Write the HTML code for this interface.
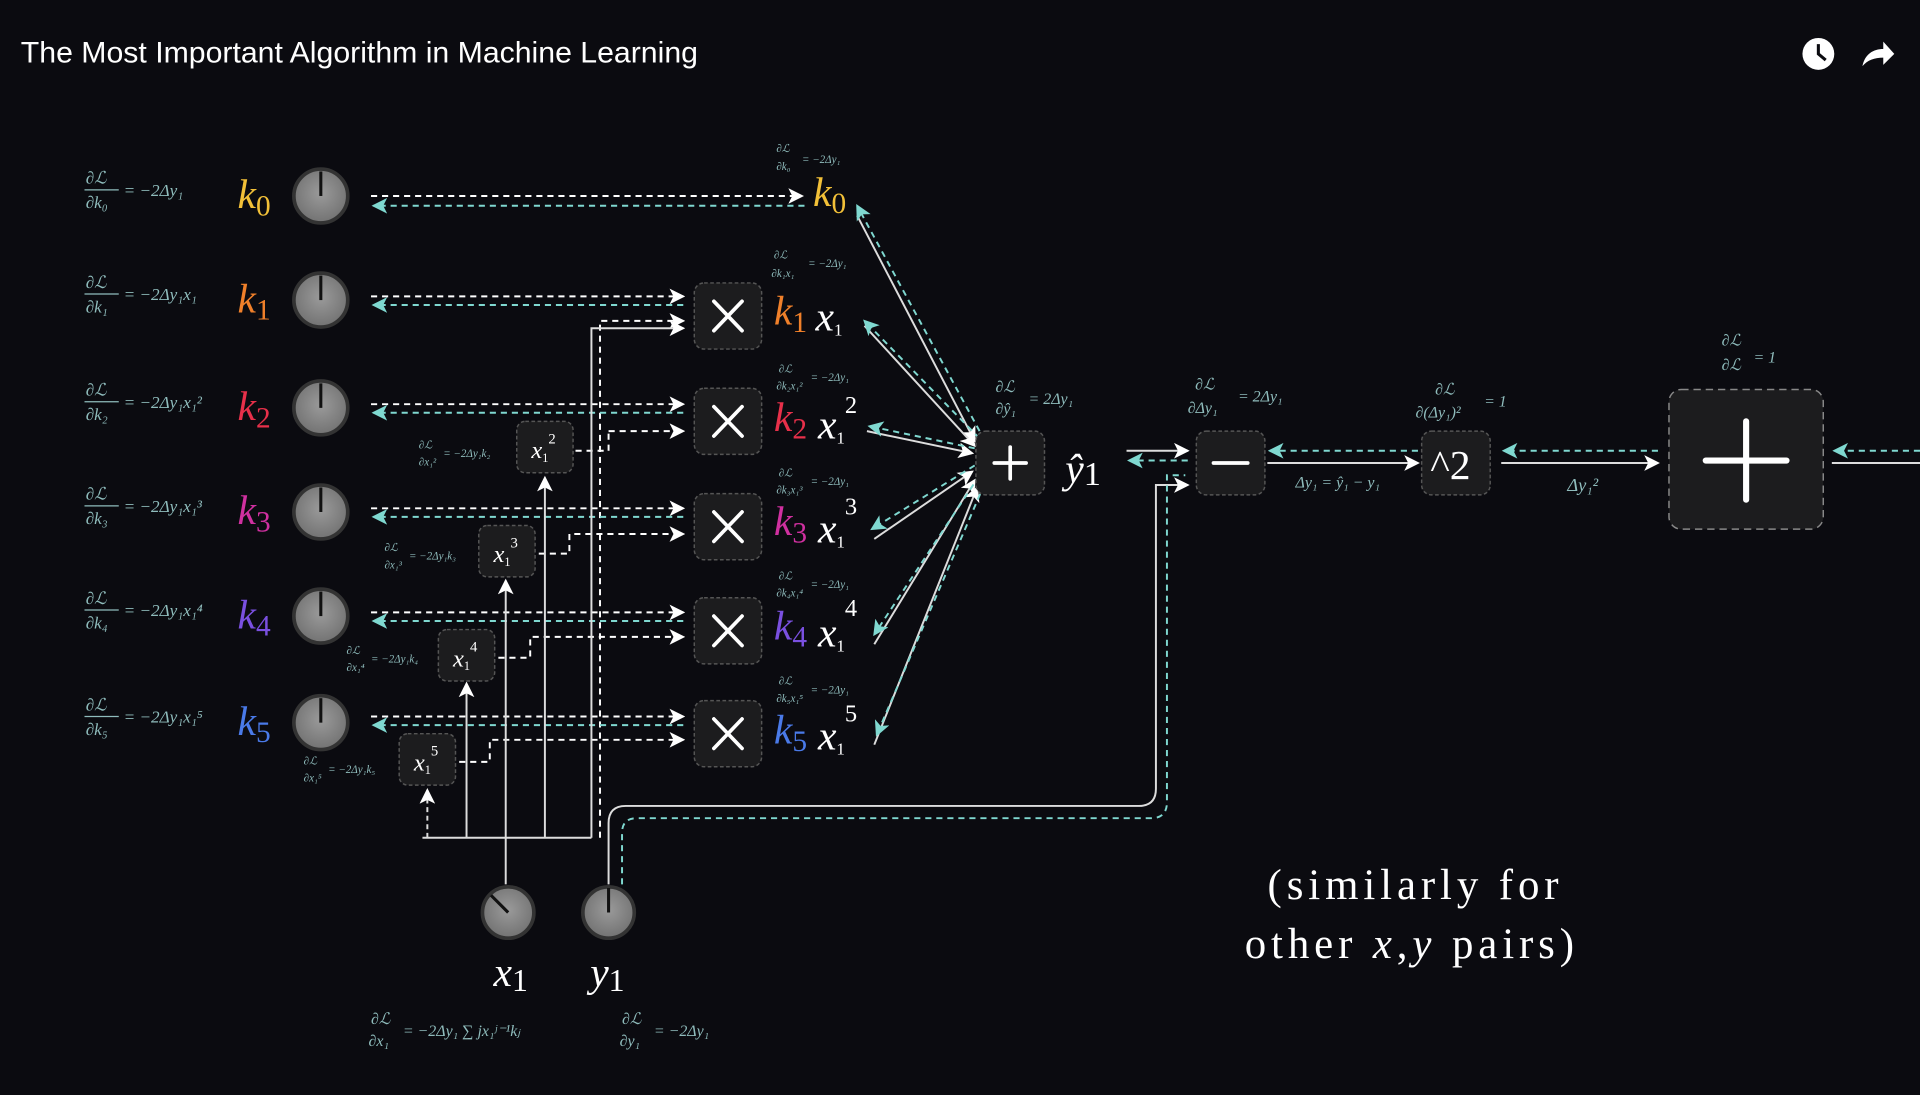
<!DOCTYPE html>
<html><head><meta charset="utf-8"><style>
html,body{margin:0;padding:0;background:#0b0b10;}
svg{display:block}
.g{fill:#8fbcbc;font-family:"Liberation Serif",serif;font-style:italic}
.w{fill:#fff;font-family:"Liberation Serif",serif;font-style:italic}
</style></head><body>
<svg width="1920" height="1095" viewBox="0 0 1568 894" preserveAspectRatio="none" xmlns="http://www.w3.org/2000/svg">
<defs>
<marker id="aw" markerWidth="8" markerHeight="8" refX="7" refY="4" orient="auto"><path d="M0,0 L8,4 L0,8 L2,4z" fill="#fff"/></marker>
<marker id="ac" markerWidth="8" markerHeight="8" refX="7" refY="4" orient="auto"><path d="M0,0 L8,4 L0,8 L2,4z" fill="#7fd8d0"/></marker>
<radialGradient id="kn" cx="0.5" cy="0.45" r="0.6"><stop offset="0" stop-color="#9a9a9a"/><stop offset="1" stop-color="#6f6f6f"/></radialGradient>
</defs>
<rect width="1568" height="894" fill="#0b0b10"/>
<text x="17" y="51" font-family="Liberation Sans,sans-serif" font-size="24.5" fill="#fff" textLength="553" lengthAdjust="spacingAndGlyphs">The Most Important Algorithm in Machine Learning</text>
<circle cx="1485" cy="44" r="13" fill="#fff"/><path d="M1485,36 V44 L1491,49" stroke="#0b0b10" stroke-width="2.5" fill="none"/>
<path d="M1521,54 C1523,44 1530,40 1538,40 V34 L1547,44 L1538,53 V47 C1531,47 1525,49 1521,54z" fill="#fff"/>

<g stroke-width="1.6" fill="none">
<g stroke="#fff" stroke-dasharray="5,4">
<line x1="303" y1="160" x2="655" y2="160" marker-end="url(#aw)"/>
<line x1="303" y1="242" x2="558" y2="242" marker-end="url(#aw)"/>
<line x1="303" y1="330" x2="558" y2="330" marker-end="url(#aw)"/>
<line x1="303" y1="415" x2="558" y2="415" marker-end="url(#aw)"/>
<line x1="303" y1="500" x2="558" y2="500" marker-end="url(#aw)"/>
<line x1="303" y1="585" x2="558" y2="585" marker-end="url(#aw)"/>
<path d="M497,352 V352 H558" marker-end="url(#aw)"/>
<path d="M470,368 H497 V352"/>
<path d="M440,452 H465 V436 H558" marker-end="url(#aw)"/>
<path d="M407,537 H433 V520 H558" marker-end="url(#aw)"/>
<path d="M375,622 H400 V604 H558" marker-end="url(#aw)"/>
<path d="M490,684 V262 H558" marker-end="url(#aw)"/>
</g>
<g stroke="#7fd8d0" stroke-dasharray="5,4">
<line x1="657" y1="168" x2="305" y2="168" marker-end="url(#ac)"/>
<line x1="558" y1="249" x2="305" y2="249" marker-end="url(#ac)"/>
<line x1="558" y1="337" x2="305" y2="337" marker-end="url(#ac)"/>
<line x1="558" y1="422" x2="305" y2="422" marker-end="url(#ac)"/>
<line x1="558" y1="507" x2="305" y2="507" marker-end="url(#ac)"/>
<line x1="558" y1="592" x2="305" y2="592" marker-end="url(#ac)"/>
</g>
<g stroke="#ddd">
<line x1="413" y1="722" x2="413" y2="684"/>
<line x1="345" y1="684" x2="483" y2="684"/>
<line x1="349" y1="684" x2="349" y2="645" stroke-dasharray="4,3" marker-end="url(#aw)"/>
<line x1="381" y1="684" x2="381" y2="558" marker-end="url(#aw)"/>
<line x1="413" y1="684" x2="413" y2="474" marker-end="url(#aw)"/>
<line x1="445" y1="684" x2="445" y2="390" marker-end="url(#aw)"/>
<path d="M483,684 V268 H558" marker-end="url(#aw)"/>
<path d="M497,722 V672 Q497,658 511,658 H930 Q944,658 944,644 V396 H970" marker-end="url(#aw)"/>
</g>
<path d="M508,722 V680 Q508,668 520,668 H940 Q953,668 953,655 V388 H968" stroke="#7fd8d0" stroke-dasharray="5,4"/>
<g stroke="#ddd">
<line x1="700" y1="176" x2="796" y2="360" marker-end="url(#aw)"/>
<line x1="706" y1="266" x2="796" y2="364" marker-end="url(#aw)"/>
<line x1="708" y1="352" x2="794" y2="370" marker-end="url(#aw)"/>
<line x1="714" y1="440" x2="794" y2="385" marker-end="url(#aw)"/>
<line x1="714" y1="526" x2="796" y2="392" marker-end="url(#aw)"/>
<line x1="714" y1="608" x2="798" y2="398" marker-end="url(#aw)"/>
<line x1="920" y1="368" x2="970" y2="368" marker-end="url(#aw)"/>
<line x1="1035" y1="378" x2="1158" y2="378" marker-end="url(#aw)"/>
<line x1="1226" y1="378" x2="1354" y2="378" marker-end="url(#aw)"/>
<line x1="1496" y1="378" x2="1568" y2="378"/>
</g>
<g stroke="#7fd8d0" stroke-dasharray="5,4">
<line x1="800" y1="352" x2="700" y2="168" marker-end="url(#ac)"/>
<line x1="800" y1="358" x2="706" y2="262" marker-end="url(#ac)"/>
<line x1="796" y1="366" x2="710" y2="348" marker-end="url(#ac)"/>
<line x1="796" y1="380" x2="712" y2="432" marker-end="url(#ac)"/>
<line x1="800" y1="388" x2="714" y2="518" marker-end="url(#ac)"/>
<line x1="804" y1="395" x2="716" y2="600" marker-end="url(#ac)"/>
<line x1="970" y1="376" x2="922" y2="376" marker-end="url(#ac)"/>
<line x1="1158" y1="368" x2="1037" y2="368" marker-end="url(#ac)"/>
<line x1="1354" y1="368" x2="1228" y2="368" marker-end="url(#ac)"/>
<line x1="1568" y1="368" x2="1498" y2="368" marker-end="url(#ac)"/>
</g>
</g>

<g fill="#1c1c1e" stroke="#555" stroke-width="1.2" stroke-dasharray="3,2">
<rect x="567" y="231" width="55" height="54" rx="8"/>
<rect x="567" y="317" width="55" height="54" rx="8"/>
<rect x="567" y="403" width="55" height="54" rx="8"/>
<rect x="567" y="488" width="55" height="54" rx="8"/>
<rect x="567" y="572" width="55" height="54" rx="8"/>
<rect x="797" y="352" width="56" height="52" rx="8"/>
<rect x="977" y="352" width="56" height="52" rx="8"/>
<rect x="1161" y="352" width="56" height="52" rx="8"/>
<rect x="1363" y="318" width="126" height="114" rx="10" stroke="#888" stroke-dasharray="6,4"/>
<rect x="422" y="344" width="46" height="42" rx="7"/>
<rect x="391" y="429" width="46" height="42" rx="7"/>
<rect x="358" y="514" width="46" height="42" rx="7"/>
<rect x="326" y="599" width="46" height="42" rx="7"/>
</g>
<g stroke="#fff" stroke-width="3" stroke-linecap="round">
<path d="M583,246 L606,270 M606,246 L583,270"/>
<path d="M583,332 L606,356 M606,332 L583,356"/>
<path d="M583,418 L606,442 M606,418 L583,442"/>
<path d="M583,503 L606,527 M606,503 L583,527"/>
<path d="M583,587 L606,611 M606,587 L583,611"/>
<path d="M812,378 H838 M825,365 V391"/>
<path d="M991,378 H1019"/>
<path d="M1393,376 H1459 M1426,344 V408" stroke-width="5"/>
</g>
<text x="1168" y="391" font-family="Liberation Serif,serif" font-size="34" fill="#fff">^2</text>

<g>
<circle cx="262" cy="160" r="22" fill="url(#kn)" stroke="#333" stroke-width="3"/><line x1="262" y1="160" x2="262" y2="140" stroke="#111" stroke-width="2.5"/>
<circle cx="262" cy="245" r="22" fill="url(#kn)" stroke="#333" stroke-width="3"/><line x1="262" y1="245" x2="262" y2="225" stroke="#111" stroke-width="2.5"/>
<circle cx="262" cy="333" r="22" fill="url(#kn)" stroke="#333" stroke-width="3"/><line x1="262" y1="333" x2="262" y2="313" stroke="#111" stroke-width="2.5"/>
<circle cx="262" cy="418" r="22" fill="url(#kn)" stroke="#333" stroke-width="3"/><line x1="262" y1="418" x2="262" y2="398" stroke="#111" stroke-width="2.5"/>
<circle cx="262" cy="503" r="22" fill="url(#kn)" stroke="#333" stroke-width="3"/><line x1="262" y1="503" x2="262" y2="483" stroke="#111" stroke-width="2.5"/>
<circle cx="262" cy="590" r="22" fill="url(#kn)" stroke="#333" stroke-width="3"/><line x1="262" y1="590" x2="262" y2="570" stroke="#111" stroke-width="2.5"/>
<circle cx="415" cy="745" r="21" fill="url(#kn)" stroke="#333" stroke-width="3"/><line x1="415" y1="745" x2="401" y2="731" stroke="#111" stroke-width="2.5"/>
<circle cx="497" cy="745" r="21" fill="url(#kn)" stroke="#333" stroke-width="3"/><line x1="497" y1="745" x2="497" y2="725" stroke="#111" stroke-width="2.5"/>
</g>

<g font-family="Liberation Serif,serif" font-style="italic" font-size="34">
<text x="194" y="170" fill="#f2c038">k<tspan font-size="24" font-style="normal" dy="6">0</tspan></text>
<text x="194" y="255" fill="#f0802a">k<tspan font-size="24" font-style="normal" dy="6">1</tspan></text>
<text x="194" y="343" fill="#e8304a">k<tspan font-size="24" font-style="normal" dy="6">2</tspan></text>
<text x="194" y="428" fill="#d030a0">k<tspan font-size="24" font-style="normal" dy="6">3</tspan></text>
<text x="194" y="513" fill="#7a50e0">k<tspan font-size="24" font-style="normal" dy="6">4</tspan></text>
<text x="194" y="600" fill="#4a7ae8">k<tspan font-size="24" font-style="normal" dy="6">5</tspan></text>
<text x="664" y="168" fill="#f2c038">k<tspan font-size="24" font-style="normal" dy="6">0</tspan></text>
<text x="632" y="265" fill="#f0802a">k<tspan font-size="24" font-style="normal" dy="6">1</tspan></text>
<text x="632" y="352" fill="#e8304a">k<tspan font-size="24" font-style="normal" dy="6">2</tspan></text>
<text x="632" y="437" fill="#d030a0">k<tspan font-size="24" font-style="normal" dy="6">3</tspan></text>
<text x="632" y="522" fill="#7a50e0">k<tspan font-size="24" font-style="normal" dy="6">4</tspan></text>
<text x="632" y="607" fill="#4a7ae8">k<tspan font-size="24" font-style="normal" dy="6">5</tspan></text>
<text x="666" y="270" fill="#fff">x<tspan font-size="14" font-style="normal" dy="4">1</tspan></text>
<text x="668" y="358" fill="#fff">x<tspan font-size="14" font-style="normal" dy="4">1</tspan></text>
<text x="668" y="443" fill="#fff">x<tspan font-size="14" font-style="normal" dy="4">1</tspan></text>
<text x="668" y="528" fill="#fff">x<tspan font-size="14" font-style="normal" dy="4">1</tspan></text>
<text x="668" y="612" fill="#fff">x<tspan font-size="14" font-style="normal" dy="4">1</tspan></text>
<text x="870" y="394" fill="#fff">ŷ<tspan font-size="28" font-style="normal" dy="2">1</tspan></text>
<text x="403" y="805" fill="#fff">x<tspan font-size="26" font-style="normal" dy="4">1</tspan></text>
<text x="482" y="805" fill="#fff">y<tspan font-size="26" font-style="normal" dy="4">1</tspan></text>
</g>
<g font-family="Liberation Serif,serif" font-size="20" fill="#fff">
<text x="690" y="337">2</text><text x="690" y="420">3</text><text x="690" y="503">4</text><text x="690" y="589">5</text>
</g>
<g font-family="Liberation Serif,serif" font-style="italic" font-size="20" fill="#fff">
<text x="434" y="374">x<tspan font-size="10" font-style="normal" dy="3">1</tspan><tspan font-size="12" font-style="normal" dy="-15">2</tspan></text>
<text x="403" y="459">x<tspan font-size="10" font-style="normal" dy="3">1</tspan><tspan font-size="12" font-style="normal" dy="-15">3</tspan></text>
<text x="370" y="544">x<tspan font-size="10" font-style="normal" dy="3">1</tspan><tspan font-size="12" font-style="normal" dy="-15">4</tspan></text>
<text x="338" y="629">x<tspan font-size="10" font-style="normal" dy="3">1</tspan><tspan font-size="12" font-style="normal" dy="-15">5</tspan></text>
</g>

<g class="g" font-size="14">
<text x="70" y="150">∂ℒ</text><line x1="69" y1="155" x2="97" y2="155" stroke="#8fbcbc"/><text x="70" y="170">∂k₀</text><text x="101" y="160">= −2Δy₁</text>
<text x="70" y="235">∂ℒ</text><line x1="69" y1="240" x2="97" y2="240" stroke="#8fbcbc"/><text x="70" y="255">∂k₁</text><text x="101" y="245">= −2Δy₁x₁</text>
<text x="70" y="323">∂ℒ</text><line x1="69" y1="328" x2="97" y2="328" stroke="#8fbcbc"/><text x="70" y="343">∂k₂</text><text x="101" y="333">= −2Δy₁x₁²</text>
<text x="70" y="408">∂ℒ</text><line x1="69" y1="413" x2="97" y2="413" stroke="#8fbcbc"/><text x="70" y="428">∂k₃</text><text x="101" y="418">= −2Δy₁x₁³</text>
<text x="70" y="493">∂ℒ</text><line x1="69" y1="498" x2="97" y2="498" stroke="#8fbcbc"/><text x="70" y="513">∂k₄</text><text x="101" y="503">= −2Δy₁x₁⁴</text>
<text x="70" y="580">∂ℒ</text><line x1="69" y1="585" x2="97" y2="585" stroke="#8fbcbc"/><text x="70" y="600">∂k₅</text><text x="101" y="590">= −2Δy₁x₁⁵</text>
</g>
<g class="g" font-size="9">
<text x="634" y="124">∂ℒ</text><text x="634" y="139">∂k₀</text><text x="655" y="133">= −2Δy₁</text>
<text x="632" y="211">∂ℒ</text><text x="630" y="226">∂k₁x₁</text><text x="660" y="218">= −2Δy₁</text>
<text x="636" y="304">∂ℒ</text><text x="634" y="318">∂k₂x₁²</text><text x="662" y="311">= −2Δy₁</text>
<text x="636" y="389">∂ℒ</text><text x="634" y="403">∂k₃x₁³</text><text x="662" y="396">= −2Δy₁</text>
<text x="636" y="473">∂ℒ</text><text x="634" y="487">∂k₄x₁⁴</text><text x="662" y="480">= −2Δy₁</text>
<text x="636" y="559">∂ℒ</text><text x="634" y="573">∂k₅x₁⁵</text><text x="662" y="566">= −2Δy₁</text>
<text x="342" y="366">∂ℒ</text><text x="342" y="380">∂x₁²</text><text x="362" y="373">= −2Δy₁k₂</text>
<text x="314" y="450">∂ℒ</text><text x="314" y="464">∂x₁³</text><text x="334" y="457">= −2Δy₁k₃</text>
<text x="283" y="534">∂ℒ</text><text x="283" y="548">∂x₁⁴</text><text x="303" y="541">= −2Δy₁k₄</text>
<text x="248" y="624">∂ℒ</text><text x="248" y="638">∂x₁⁵</text><text x="268" y="631">= −2Δy₁k₅</text>
</g>
<g class="g" font-size="13">
<text x="813" y="320">∂ℒ</text><text x="813" y="338">∂ŷ₁</text><text x="840" y="330">= 2Δy₁</text>
<text x="976" y="318">∂ℒ</text><text x="970" y="337">∂Δy₁</text><text x="1011" y="328">= 2Δy₁</text>
<text x="1172" y="322">∂ℒ</text><text x="1156" y="341">∂(Δy₁)²</text><text x="1212" y="332">= 1</text>
<text x="1406" y="282">∂ℒ</text><text x="1406" y="302">∂ℒ</text><text x="1432" y="296">= 1</text>
<text x="1058" y="398">Δy₁ = ŷ₁ − y₁</text>
<text x="1280" y="401" font-size="15">Δy₁²</text>
<text x="303" y="836">∂ℒ</text><text x="301" y="854">∂x₁</text><text x="329" y="846">= −2Δy₁ ∑ jx₁ʲ⁻¹kⱼ</text>
<text x="508" y="836">∂ℒ</text><text x="506" y="854">∂y₁</text><text x="534" y="846">= −2Δy₁</text>
</g>
<g font-family="Liberation Serif,serif" font-size="35" fill="#fff" text-anchor="middle" letter-spacing="4">
<text x="1156" y="734">(similarly for</text>
<text x="1153" y="782">other <tspan font-style="italic">x</tspan>,<tspan font-style="italic">y</tspan> pairs)</text>
</g>
</svg>
</body></html>
